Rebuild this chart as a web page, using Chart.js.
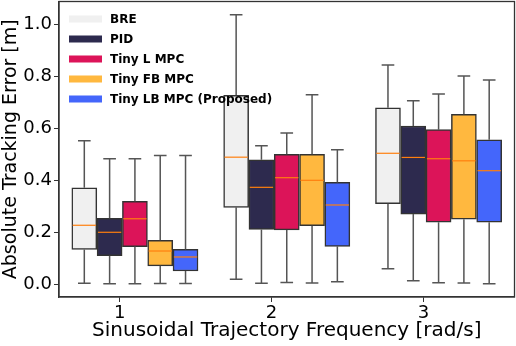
<!DOCTYPE html>
<html>
<head>
<meta charset="utf-8">
<script src="https://cdn.jsdelivr.net/npm/chart.js@4/dist/chart.umd.min.js"></script>
<style>
  body { margin: 0; background: #fff; }
  canvas { display: block; }
</style>
</head>
<body>
<canvas id="chart" width="516" height="346"></canvas>
<script>
// trajectory frequencies (x positions of the groups)
const frequencies = [1, 2, 3];
const methodNames = ["BRE", "PID", "Tiny L MPC", "Tiny FB MPC", "Tiny LB MPC (Proposed)"];
const methodColors = ["#f0f0f0", "#2d2a4e", "#dc1459", "#ffb83f", "#4466fb"];

// box stats per frequency: [low whisker, q1, median, q3, high whisker]
const breStats    = [[0.003, 0.133, 0.226, 0.370, 0.551], [0.018, 0.295, 0.488, 0.726, 1.036], [0.059, 0.309, 0.503, 0.678, 0.843]];
const pidStats    = [[0.001, 0.109, 0.199, 0.253, 0.482], [0.003, 0.210, 0.372, 0.478, 0.532], [0.013, 0.269, 0.487, 0.608, 0.705]];
const tinyLStats  = [[0.001, 0.144, 0.251, 0.318, 0.482], [0.006, 0.208, 0.409, 0.499, 0.581], [0.005, 0.238, 0.482, 0.594, 0.731]];
const tinyFBStats = [[0.002, 0.070, 0.127, 0.168, 0.494], [0.004, 0.224, 0.399, 0.499, 0.728], [0.004, 0.249, 0.474, 0.653, 0.800]];
const tinyLBStats = [[0.002, 0.050, 0.104, 0.133, 0.494], [0.009, 0.145, 0.304, 0.391, 0.517], [0.001, 0.238, 0.436, 0.555, 0.785]];
const allStats = [breStats, pidStats, tinyLStats, tinyFBStats, tinyLBStats];

const yTicks = [0.0, 0.2, 0.4, 0.6, 0.8, 1.0];
const boxWidth = 1 / 6;
const offsetOf = k => (k - 1.4) / 6;

const font = "DejaVu Sans";
const edge = "#333";

const datasets = allStats.map((stats, k) => ({
    label: methodNames[k],
    data: stats.map((s, i) => ({ x: frequencies[i] + offsetOf(k), y: [s[1], s[3]] })),
    backgroundColor: methodColors[k],
    borderColor: edge,
    borderWidth: 1.5,
    borderSkipped: false,
    barThickness: 25,
    grouped: false,
}));

const boxExtras = {
    id: "boxExtras",
    afterDatasetsDraw(chart) {
        const { ctx, scales: { x, y } } = chart;
        ctx.save();
        allStats.forEach((stats, k) => {
            stats.forEach((s, i) => {
                const cx = x.getPixelForValue(frequencies[i] + offsetOf(k));
                const half = (x.getPixelForValue(boxWidth) - x.getPixelForValue(0)) / 2;
                const cap = half / 2;
                ctx.strokeStyle = "#555";
                ctx.lineWidth = 1.5;
                ctx.beginPath();
                ctx.moveTo(cx, y.getPixelForValue(s[3]));
                ctx.lineTo(cx, y.getPixelForValue(s[4]));
                ctx.moveTo(cx - cap, y.getPixelForValue(s[4]));
                ctx.lineTo(cx + cap, y.getPixelForValue(s[4]));
                ctx.moveTo(cx, y.getPixelForValue(s[1]));
                ctx.lineTo(cx, y.getPixelForValue(s[0]));
                ctx.moveTo(cx - cap, y.getPixelForValue(s[0]));
                ctx.lineTo(cx + cap, y.getPixelForValue(s[0]));
                ctx.stroke();
                // median
                ctx.strokeStyle = "#ff7f0e";
                ctx.lineWidth = 1.2;
                ctx.beginPath();
                const my = y.getPixelForValue(s[2]);
                ctx.moveTo(cx - half + 1, my);
                ctx.lineTo(cx + half - 1, my);
                ctx.stroke();
            });
        });
        // frame
        const a = chart.chartArea;
        ctx.strokeStyle = edge;
        ctx.lineWidth = 1.3;
        ctx.strokeRect(a.left, a.top, a.right - a.left, a.bottom - a.top);
        // legend
        ctx.font = "bold 12px '" + font + "'";
        ctx.textBaseline = "middle";
        methodNames.forEach((name, k) => {
            const ly = a.top + 17 + k * 20;
            ctx.fillStyle = methodColors[k];
            ctx.fillRect(a.left + 10, ly - 3, 33, 7);
            ctx.fillStyle = "#000";
            ctx.fillText(name, a.left + 51, ly + 1);
        });
        ctx.restore();
    }
};

new Chart(document.getElementById("chart"), {
    type: "bar",
    data: { datasets },
    options: {
        responsive: false,
        animation: false,
        layout: { padding: { top: 1.5, right: 1.5, left: 0, bottom: 0 } },
        plugins: { legend: { display: false }, tooltip: { enabled: false } },
        scales: {
            x: {
                type: "linear",
                min: 0.6,
                max: 3.6,
                offset: false,
                afterBuildTicks: s => { s.ticks = frequencies.map(v => ({ value: v })); },
                afterFit: s => { s.height = 49; s.paddingLeft = 0; s.paddingRight = 0; },
                ticks: { color: "#000", font: { family: font, size: 18 }, padding: 1, callback: v => String(v) },
                grid: { drawOnChartArea: false, offset: false, tickLength: 5, color: edge },
                border: { color: edge, width: 1.3 },
                title: { display: true, text: "Sinusoidal Trajectory Frequency [rad/s]", color: "#000",
                         font: { family: font, size: 20 }, padding: { top: 0, bottom: 3 } },
            },
            y: {
                min: -0.05,
                max: 1.087,
                afterBuildTicks: s => { s.ticks = yTicks.map(v => ({ value: v })); },
                afterFit: s => { s.width = 59; s.paddingTop = 0; s.paddingBottom = 0; },
                ticks: { color: "#000", font: { family: font, size: 18 }, padding: 2, callback: v => v.toFixed(1) },
                grid: { drawOnChartArea: false, tickLength: 5, color: edge },
                border: { color: edge, width: 1.3 },
                title: { display: true, text: "Absolute Tracking Error [m]", color: "#000",
                         font: { family: font, size: 19 }, padding: { top: 0, bottom: 0 } },
            },
        },
    },
    plugins: [boxExtras],
});
</script>
</body>
</html>
